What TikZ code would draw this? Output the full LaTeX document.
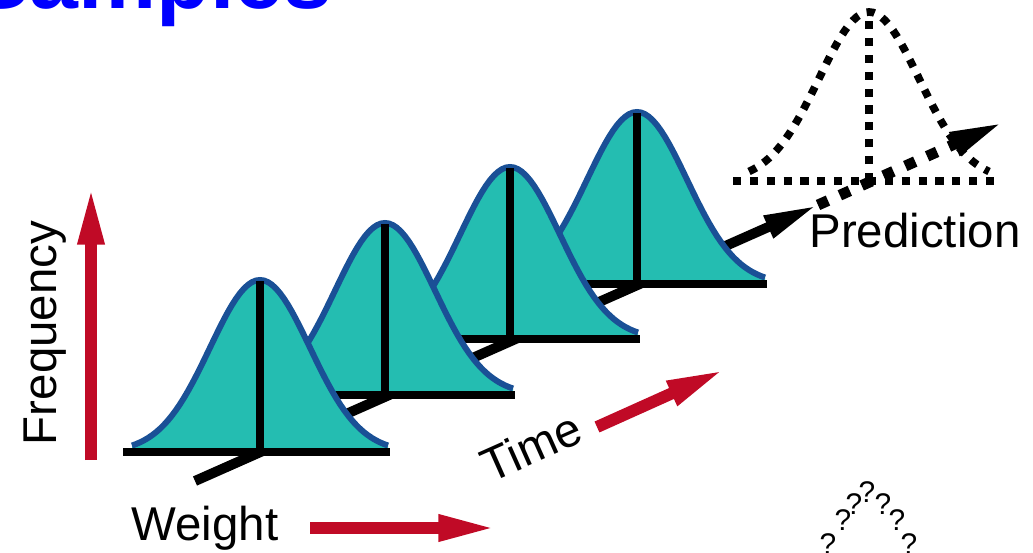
\documentclass[tikz,border=0pt]{standalone}
\usepackage{fontspec}
\setmainfont{Liberation Sans}
\usetikzlibrary{arrows.meta}
\definecolor{bellfillc}{HTML}{24BDB1}
\definecolor{bellblue}{HTML}{1A5096}
\definecolor{redarrowc}{HTML}{C00A26}
\definecolor{titleblue}{HTML}{0000FF}
\tikzset{
  bellfill/.style={fill=bellfillc},
  belloutline/.style={draw=bellblue, line width=3.4pt},
  blackln/.style={draw=black, line width=4.5pt},
  axisarrow/.style={draw=black, line width=5.7pt, -{Triangle[length=31pt,width=12.5pt]}},
  predaxis/.style={draw=black, line width=6.2pt, dash pattern=on 6.2pt off 7.4pt, -{Triangle[length=31pt,width=13pt]}},
  predline/.style={draw=black, line width=4.4pt, dash pattern=on 4.6pt off 5pt},
  redarrow/.style={draw=redarrowc, line width=6.8pt, -{Triangle[length=34pt,width=13.6pt]}},
  lbl/.style={font=\fontsize{27}{30}\selectfont, inner sep=0pt},
  qm/.style={font=\fontsize{17}{20}\selectfont, inner sep=0pt},
  titletext/.style={font=\bfseries\fontsize{50}{52}\selectfont, text=titleblue, inner sep=0pt}
}
\begin{document}
\begin{tikzpicture}[x=0.02cm,y=-0.02cm]
\useasboundingbox (0,0) rectangle (1033,553);
\clip (0,0) rectangle (1033,553);

% title (cut off at top)
\node[titletext, anchor=base west] (title) at (-29,9) {Samples};

% time axis
\coordinate (ax0) at (195,481);
\coordinate (ax1) at (818,205);
\coordinate (ax2) at (1004,122);
\draw[axisarrow] (ax0) -- (ax1);
\draw[predaxis] (ax1) -- (ax2);

% bell curves, back to front
\foreach \cx/\by in {637/284, 510/339, 385/395, 260/452}{
  \fill[bellfill] plot[domain=-128:128, samples=65] ({\cx+\x},{\by-172*exp(-0.5*(\x/50)^2)})
     -- (\cx+128,\by) -- (\cx-128,\by) -- cycle;
  \draw[belloutline] plot[domain=-128:128, samples=65] ({\cx+\x},{\by-172*exp(-0.5*(\x/50)^2)});
  \draw[blackln] (\cx-137,\by) -- (\cx+130,\by);
  \draw[blackln] (\cx,\by) -- (\cx,\by-171);
}

% prediction distribution (dotted)
\draw[predline] (733,181) -- (1002,181);
\draw[predline] (869,181) -- (869,13);
\draw[predline] plot[domain=-120:120, samples=61] ({869+\x},{181-169*exp(-0.5*(\x/50)^2)});

% red arrows
\coordinate (fa0) at (91,460);
\coordinate (fa1) at (91,185);
\coordinate (wa0) at (310,528);
\coordinate (wa1) at (498,528);
\coordinate (ta0) at (597,427);
\coordinate (ta1) at (726,369);
\draw[redarrow] (fa0) -- (fa1);
\draw[redarrow] (wa0) -- (wa1);
\draw[redarrow] (ta0) -- (ta1);

% labels
\node[lbl, rotate=90, anchor=base] (freq) at (56,333) {Frequency};
\node[lbl, anchor=base] (weight) at (205,540) {Weight};
\node[lbl, anchor=base] (pred) at (915,248) {Prediction};
\node[lbl, rotate=24, anchor=base] (time) at (538,462) {Time};

% question marks
\foreach \i/\px/\py in {1/828/544, 2/843/520, 3/854/504, 4/867/492, 5/883/504, 6/897/520, 7/909/544}{
  \node[qm] (q\i) at (\px,\py) {?};
}
\end{tikzpicture}
\end{document}
